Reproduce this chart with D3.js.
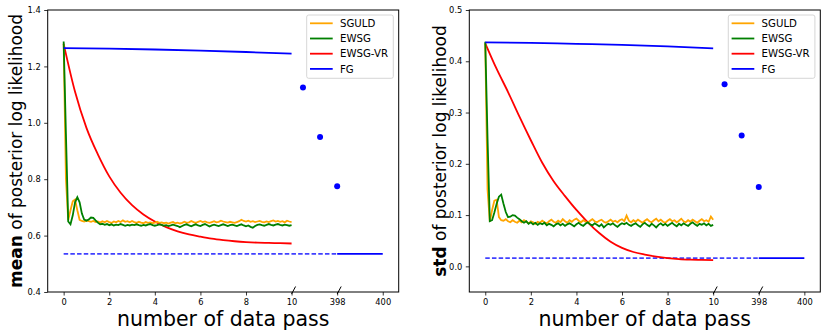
<!DOCTYPE html>
<html>
<head>
<meta charset="utf-8">
<script src="https://cdn.jsdelivr.net/npm/d3@7"></script>
<style>
  body { margin: 0; background: white; }
  text { font-family: "DejaVu Sans", sans-serif; }
</style>
</head>
<body>
<div id="myVis"></div>
<script>
// ---- data ----
const seriesNames = ["SGULD", "EWSG", "EWSG-VR", "FG"]
const seriesColors = ["orange", "green", "red", "blue"]

// passes 0..10, every 0.1
const passGrid = d3.range(101).map(i => i / 10)
// passes 0..10, every 0.5 (smooth curve)
const passHalf = d3.range(21).map(i => i / 2)
const fgPass = [0, 2, 4, 6, 8, 10]

const sguldMean = [1.280,0.800,0.655,0.690,0.722,0.728,0.690,0.656,0.652,0.650,
  0.653,0.651,0.649,0.652,0.648,0.650,0.646,0.651,0.647,0.652,
  0.648,0.645,0.650,0.647,0.652,0.648,0.654,0.649,0.651,0.647,
  0.652,0.648,0.645,0.649,0.646,0.644,0.648,0.645,0.647,0.644,
  0.646,0.649,0.645,0.647,0.644,0.646,0.643,0.646,0.648,0.644,
  0.646,0.643,0.645,0.649,0.645,0.647,0.652,0.648,0.645,0.649,
  0.652,0.648,0.650,0.647,0.645,0.648,0.651,0.647,0.649,0.653,
  0.650,0.648,0.646,0.649,0.647,0.645,0.648,0.651,0.656,0.652,
  0.650,0.653,0.649,0.651,0.648,0.650,0.652,0.649,0.647,0.650,
  0.648,0.651,0.654,0.650,0.652,0.649,0.651,0.647,0.653,0.650,0.648]

const ewsgMean = [1.288,0.960,0.650,0.640,0.672,0.718,0.736,0.718,0.678,0.657,
  0.653,0.657,0.664,0.663,0.654,0.646,0.640,0.642,0.638,0.641,
  0.637,0.640,0.636,0.639,0.637,0.641,0.638,0.635,0.638,0.636,
  0.639,0.637,0.640,0.637,0.635,0.638,0.636,0.639,0.641,0.637,
  0.635,0.637,0.640,0.638,0.635,0.637,0.634,0.636,0.639,0.636,
  0.634,0.630,0.634,0.638,0.640,0.636,0.633,0.637,0.640,0.636,
  0.634,0.638,0.641,0.637,0.632,0.636,0.639,0.636,0.634,0.637,
  0.640,0.637,0.634,0.637,0.639,0.636,0.634,0.637,0.640,0.636,
  0.633,0.636,0.631,0.628,0.634,0.638,0.640,0.637,0.635,0.638,
  0.641,0.638,0.636,0.639,0.641,0.638,0.636,0.639,0.637,0.635,0.637]

const ewsgvrMean = [1.280,1.110,0.982,0.888,0.810,0.752,0.708,0.675,0.650,0.630,
  0.615,0.604,0.596,0.589,0.584,0.580,0.577,0.575,0.574,0.573,0.572]

const fgMean = [1.265,1.263,1.260,1.256,1.251,1.245]
const fgMeanLimit = 0.535

const sguldStd = [0.435,0.150,0.087,0.110,0.128,0.130,0.096,0.090,0.089,0.092,
  0.088,0.086,0.090,0.087,0.085,0.089,0.086,0.090,0.087,0.084,
  0.088,0.086,0.083,0.087,0.085,0.089,0.086,0.084,0.088,0.091,
  0.087,0.085,0.089,0.086,0.092,0.088,0.085,0.090,0.087,0.091,
  0.093,0.089,0.086,0.090,0.087,0.085,0.089,0.092,0.088,0.086,
  0.089,0.091,0.087,0.085,0.088,0.091,0.087,0.089,0.086,0.090,
  0.092,0.088,0.099,0.089,0.086,0.090,0.087,0.091,0.088,0.085,
  0.089,0.092,0.088,0.086,0.090,0.093,0.088,0.091,0.087,0.085,
  0.089,0.092,0.088,0.090,0.086,0.089,0.093,0.088,0.086,0.090,
  0.087,0.091,0.088,0.085,0.089,0.092,0.088,0.090,0.087,0.097,0.091]

const ewsgStd = [0.438,0.250,0.088,0.090,0.105,0.122,0.136,0.140,0.122,0.106,
  0.096,0.097,0.100,0.099,0.095,0.092,0.088,0.085,0.088,0.083,
  0.086,0.082,0.085,0.081,0.084,0.082,0.085,0.080,0.083,0.081,
  0.078,0.082,0.084,0.080,0.083,0.079,0.082,0.084,0.081,0.078,
  0.082,0.085,0.081,0.079,0.083,0.086,0.082,0.080,0.084,0.081,
  0.078,0.082,0.076,0.080,0.083,0.081,0.084,0.080,0.077,0.081,
  0.084,0.082,0.085,0.081,0.079,0.082,0.084,0.080,0.077,0.082,
  0.085,0.081,0.078,0.083,0.080,0.076,0.081,0.084,0.080,0.083,
  0.079,0.082,0.085,0.081,0.078,0.083,0.080,0.084,0.081,0.079,
  0.083,0.086,0.082,0.079,0.083,0.081,0.084,0.080,0.083,0.079,0.081]

const ewsgvrStd = [0.435,0.385,0.340,0.292,0.246,0.202,0.166,0.137,0.110,0.086,
  0.065,0.048,0.036,0.028,0.023,0.019,0.016,0.014,0.013,0.0125,0.012]

const fgStd = [0.437,0.436,0.434,0.432,0.429,0.425]
const fgStdLimit = 0.016

// "..." dots drawn in the axis gap
const gapPass = [107, 252.5, 398]
const gapMean = [1.125, 0.95, 0.775]
const gapStd = [0.355, 0.255, 0.155]

const xTicks = [0, 2, 4, 6, 8, 10, 398, 400]
const meanTicks = [0.4, 0.6, 0.8, 1.0, 1.2, 1.4]
const stdTicks = [0.0, 0.1, 0.2, 0.3, 0.4, 0.5]

// ---- layout ----
const W = 830, H = 336
const panelTop = 10, ph = 282, pw = 351
const u = pw / 15.4   // width of one pass on the 0..10 part
const lw = 1.8

const svg = d3.select("#myVis").append("svg")
  .attr("width", W).attr("height", H)
  .style("background-color", "white")

const x = d3.scaleLinear()
  .domain([-0.7, 10, 398, 400.7])
  .range([0, u * 10.7, u * 12.7, u * 15.4])

const drawPanel = (left, yDomain, yTicks, fmt, d, labelBold, labelRest, labelX) => {
  const y = d3.scaleLinear().domain(yDomain).range([ph, 0])
  const g = svg.append("g").attr("transform", "translate(" + left + "," + panelTop + ")")

  const line = d3.line().x(p => x(p[0])).y(p => y(p[1]))
  const zip = (xs, ys) => xs.map((v, i) => [v, ys[i]])

  // limit line of FG: dashed over the shown range, solid at the end
  g.append("path")
    .attr("d", line([[0, d.limit], [398, d.limit]]))
    .attr("fill", "none").attr("stroke", "blue").attr("stroke-width", lw)
    .attr("stroke-opacity", 0.75)
    .attr("stroke-dasharray", "4.5,2.2")
  g.append("path")
    .attr("d", line([[398, d.limit], [400, d.limit]]))
    .attr("fill", "none").attr("stroke", "blue").attr("stroke-width", lw)

  g.append("path").attr("d", line.curve(d3.curveMonotoneX)(zip(passHalf, d.vr)))
    .attr("fill", "none").attr("stroke", "red").attr("stroke-width", lw)
  line.curve(d3.curveLinear)
  g.append("path").attr("d", line(zip(passGrid, d.sguld)))
    .attr("fill", "none").attr("stroke", "orange").attr("stroke-width", lw)
  g.append("path").attr("d", line(zip(passGrid, d.ewsg)))
    .attr("fill", "none").attr("stroke", "green").attr("stroke-width", lw)
  g.append("path").attr("d", line.curve(d3.curveMonotoneX)(zip(fgPass, d.fg)))
    .attr("fill", "none").attr("stroke", "blue").attr("stroke-width", lw)

  g.selectAll("circle.gap").data(zip(gapPass, d.gap)).enter()
    .append("circle")
      .attr("cx", p => x(p[0])).attr("cy", p => y(p[1]))
      .attr("r", 3).attr("fill", "blue")

  // axes
  const xa = g.append("g").attr("transform", "translate(0," + ph + ")")
    .call(d3.axisBottom(x).tickValues(xTicks).tickSize(3.5).tickPadding(3.5))
  const ya = g.append("g")
    .call(d3.axisLeft(y).tickValues(yTicks).tickFormat(fmt).tickSize(3.5).tickPadding(3.5))
  ;[xa, ya].forEach(a => {
    a.select(".domain").remove()
    a.selectAll("text").style("font-size", "8.3px").attr("fill", "black")
    a.selectAll("line").attr("stroke", "black").attr("stroke-width", 0.8)
  })

  g.append("rect").attr("width", pw).attr("height", ph)
    .attr("fill", "none").attr("stroke", "black").attr("stroke-width", 1)

  // break marks
  ;[10, 398].forEach(v => {
    g.append("line")
      .attr("x1", x(v)).attr("y1", ph + 2)
      .attr("x2", x(v) + 4).attr("y2", ph - 5.5)
      .attr("stroke", "black").attr("stroke-width", 1)
  })

  // legend
  const lg = g.append("g").attr("transform", "translate(259,5)")
  lg.append("rect").attr("width", 86.6).attr("height", 63.3).attr("rx", 2)
    .attr("fill", "white").attr("fill-opacity", 0.8)
    .attr("stroke", "#cccccc").attr("stroke-width", 0.8)
  seriesNames.forEach((name, i) => {
    const yy = 8.3 + i * 15.2
    lg.append("line").attr("x1", 3.3).attr("x2", 26).attr("y1", yy).attr("y2", yy)
      .attr("stroke", seriesColors[i]).attr("stroke-width", lw)
    lg.append("text").attr("x", 33.3).attr("y", yy + 3.6)
      .style("font-size", "10.2px").text(name)
  })

  // axis labels
  svg.append("text")
    .attr("x", left + pw / 2).attr("y", 326)
    .attr("text-anchor", "middle").style("font-size", "20.5px")
    .text("number of data pass")
  const yl = svg.append("text")
    .attr("transform", "translate(" + labelX + "," + (panelTop + ph / 2) + ") rotate(-90)")
    .attr("text-anchor", "middle").style("font-size", "17px")
  yl.append("tspan").style("font-weight", "bold").text(labelBold)
  yl.append("tspan").text(labelRest)
}

drawPanel(47.7, [0.4, 1.4], meanTicks, d3.format(".1f"),
  {sguld: sguldMean, ewsg: ewsgMean, vr: ewsgvrMean, fg: fgMean, limit: fgMeanLimit, gap: gapMean},
  "mean", " of posterior log likelihood", 22)

drawPanel(469.3, [-0.05, 0.5], stdTicks, d3.format(".1f"),
  {sguld: sguldStd, ewsg: ewsgStd, vr: ewsgvrStd, fg: fgStd, limit: fgStdLimit, gap: gapStd},
  "std", " of posterior log likelihood", 446)
</script>
</body>
</html>
